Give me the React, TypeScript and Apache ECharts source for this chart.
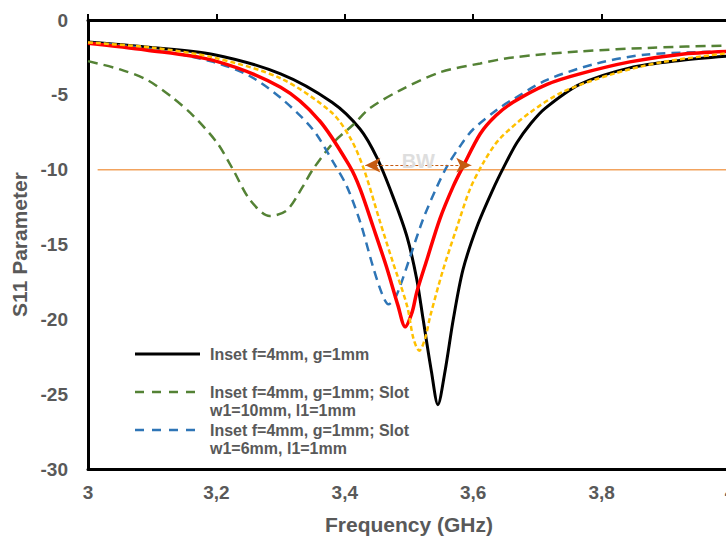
import React, { useEffect, useRef } from "react";
import * as echarts from "echarts";

const FONT = "'Liberation Sans Narrow', 'Arial Narrow', 'Liberation Sans', Arial, sans-serif";
const GRAY = "#595959";

const xTicks = [3, 3.2, 3.4, 3.6, 3.8, 4];
const seriesNames = [
  "Inset f=4mm, g=1mm",
  "Inset f=4mm, g=1mm; Slot\nw1=10mm, l1=1mm",
  "Inset f=4mm, g=1mm; Slot\nw1=6mm, l1=1mm",
  "Red",
  "Yellow",
];

const blackData = [
  [3.0, -1.47], [3.09, -1.8], [3.195, -2.3], [3.3, -3.6], [3.38, -5.5],
  [3.424, -7.3], [3.45, -9.2], [3.475, -11.8], [3.497, -14.5], [3.512, -17.3], [3.522, -20.0],
  [3.535, -23.5], [3.545, -25.7], [3.556, -23.5], [3.569, -20.0], [3.584, -16.7], [3.606, -13.8],
  [3.631, -11.3], [3.648, -9.8], [3.668, -8.2], [3.69, -6.9], [3.712, -5.9], [3.766, -4.3],
  [3.844, -3.2], [3.922, -2.7], [4.0, -2.4],
];
const greenData = [
  [3.0, -2.75], [3.05, -3.3], [3.092, -4.0], [3.132, -5.2], [3.164, -6.4], [3.201, -8.2],
  [3.226, -10.0], [3.252, -12.0], [3.283, -13.1], [3.31, -12.7], [3.335, -11.1], [3.35, -10.0],
  [3.382, -8.2], [3.413, -7.0], [3.439, -5.9], [3.486, -4.7], [3.548, -3.5], [3.611, -2.9],
  [3.662, -2.5], [3.766, -2.1], [3.88, -1.85], [4.0, -1.7],
];
const blueData = [
  [3.0, -1.5], [3.1, -1.95], [3.195, -2.8], [3.25, -3.7], [3.3, -5.2], [3.35, -7.3],
  [3.382, -9.5], [3.403, -11.1], [3.424, -13.5], [3.444, -16.5], [3.458, -18.3], [3.468, -19.0],
  [3.478, -18.6], [3.486, -17.8], [3.502, -15.8], [3.522, -13.3], [3.544, -11.1], [3.559, -9.8],
  [3.58, -8.4], [3.6, -7.3], [3.637, -6.0], [3.662, -5.3], [3.715, -4.0], [3.793, -2.9],
  [3.871, -2.3], [4.0, -2.1],
];
const redData = [
  [3.0, -1.55], [3.09, -2.0], [3.195, -2.7], [3.3, -4.5], [3.36, -6.7], [3.408, -9.8],
  [3.424, -11.3], [3.444, -13.8], [3.465, -16.5], [3.483, -19.1], [3.494, -20.5], [3.505, -19.5],
  [3.512, -18.2], [3.528, -16.0], [3.548, -13.3], [3.569, -11.1], [3.584, -9.8], [3.611, -7.6],
  [3.635, -6.4], [3.662, -5.5], [3.715, -4.3], [3.766, -3.6], [3.844, -2.8], [3.922, -2.3],
  [4.0, -2.1],
];
const yellowData = [
  [3.0, -1.5], [3.1, -1.85], [3.195, -2.5], [3.3, -3.9], [3.38, -6.2], [3.41, -8.0],
  [3.43, -10.0], [3.455, -13.5], [3.475, -16.2], [3.497, -19.1], [3.507, -21.3], [3.516, -22.1],
  [3.525, -21.3], [3.533, -19.8], [3.553, -16.7], [3.575, -13.8], [3.595, -11.3], [3.615, -9.6],
  [3.64, -8.0], [3.688, -6.2], [3.74, -4.8], [3.818, -3.6], [3.896, -2.8], [4.0, -2.2],
];
const thresholdData = [[3.015, -10], [4.0, -10]];
const bwArrow = [[3.432, -9.7], [3.597, -9.7]];
const bwLabel = "BW";

export default function App() {
  const ref = useRef<HTMLDivElement>(null);
  useEffect(() => {
    if (!ref.current) return;
    const chart = echarts.init(ref.current, undefined, { renderer: "svg" });
    const fmt = (v: number) =>
      Math.abs(v - Math.round(v)) < 1e-9 ? String(Math.round(v)) : v.toFixed(1).replace(".", ",");
    const lineSeries = (name: string, data: number[][], color: string, width: number, type: any, z: number) => ({
      type: "line",
      name,
      data,
      showSymbol: false,
      symbol: "none",
      smooth: 0.3,
      z,
      lineStyle: { color, width, type },
      itemStyle: { color },
    });
    const txt = { fontFamily: FONT, fontWeight: "bold", color: GRAY };
    chart.setOption({
      animation: false,
      grid: {
        left: 88,
        top: 20,
        right: -4,
        bottom: 73,
        containLabel: false,
        outerBoundsMode: "none",
      },
      xAxis: [
        {
          type: "value",
          min: xTicks[0],
          max: xTicks[xTicks.length - 1],
          interval: 0.2,
          position: "bottom",
          axisLine: { show: true, onZero: false, lineStyle: { color: "#000", width: 3 } },
          axisTick: { show: false },
          splitLine: { show: false },
          axisLabel: { ...txt, fontSize: 19, margin: 14, formatter: fmt },
          name: "Frequency (GHz)",
          nameLocation: "middle",
          nameGap: 45,
          nameTextStyle: { ...txt, fontSize: 21 },
        },
        {
          type: "value",
          min: xTicks[0],
          max: xTicks[xTicks.length - 1],
          interval: 0.2,
          position: "top",
          axisLine: { show: true, onZero: false, lineStyle: { color: "#000", width: 3 } },
          axisTick: { show: true, inside: false, length: 6, lineStyle: { color: "#000", width: 2 } },
          splitLine: { show: false },
          axisLabel: { show: false },
        },
      ],
      yAxis: {
        type: "value",
        min: -30,
        max: 0,
        interval: 5,
        axisLine: { show: true, onZero: false, lineStyle: { color: "#000", width: 3 } },
        axisTick: { show: false },
        splitLine: { show: false },
        axisLabel: { ...txt, fontSize: 19, margin: 20 },
        name: "S11 Parameter",
        nameLocation: "middle",
        nameGap: 56,
        nameRotate: 90,
        nameTextStyle: { ...txt, fontSize: 21 },
      },
      series: [
        {
          type: "line",
          name: "threshold",
          data: thresholdData,
          showSymbol: false,
          symbol: "none",
          z: 1,
          lineStyle: { color: "#F2A35E", width: 1.5 },
          markLine: {
            silent: true,
            symbol: ["arrow", "arrow"],
            symbolSize: [11, 15],
            lineStyle: { color: "#C55A11", width: 1.2, type: [3, 2] },
            itemStyle: { color: "#C55A11" },
            label: {
              show: true,
              position: "middle",
              formatter: bwLabel,
              distance: -6,
              color: "#DEDEDE",
              fontFamily: FONT,
              fontWeight: "bold",
              fontSize: 20,
            },
            data: [[{ coord: bwArrow[0] }, { coord: bwArrow[1] }]],
          },
        },
        lineSeries(seriesNames[0], blackData, "#000000", 3, "solid", 3),
        lineSeries(seriesNames[1], greenData, "#548235", 2.5, [10, 6], 3),
        lineSeries(seriesNames[2], blueData, "#2E75B6", 2.5, [9, 6], 3),
        lineSeries(seriesNames[3], redData, "#FF0000", 3.5, "solid", 3),
        lineSeries(seriesNames[4], yellowData, "#FFC000", 2.5, [5, 3], 3),
      ],
      graphic: [
        { type: "line", shape: { x1: 135, y1: 354, x2: 200, y2: 354 }, style: { stroke: "#000", lineWidth: 3 } },
        { type: "line", shape: { x1: 135, y1: 392, x2: 200, y2: 392 }, style: { stroke: "#548235", lineWidth: 2.5, lineDash: [9, 8] } },
        { type: "line", shape: { x1: 135, y1: 430, x2: 200, y2: 430 }, style: { stroke: "#2E75B6", lineWidth: 2.5, lineDash: [9, 8] } },
        { type: "text", x: 210, y: 345, style: { text: seriesNames[0], font: `bold 16px ${FONT}`, fill: GRAY, lineHeight: 18 } },
        { type: "text", x: 210, y: 383, style: { text: seriesNames[1], font: `bold 16px ${FONT}`, fill: GRAY, lineHeight: 18 } },
        { type: "text", x: 210, y: 421, style: { text: seriesNames[2], font: `bold 16px ${FONT}`, fill: GRAY, lineHeight: 18 } },
      ],
    });
    return () => chart.dispose();
  }, []);
  return (
    <div
      ref={ref}
      style={{ position: "fixed", left: 0, top: 0, width: 726, height: 542, background: "#fff" }}
    />
  );
}
